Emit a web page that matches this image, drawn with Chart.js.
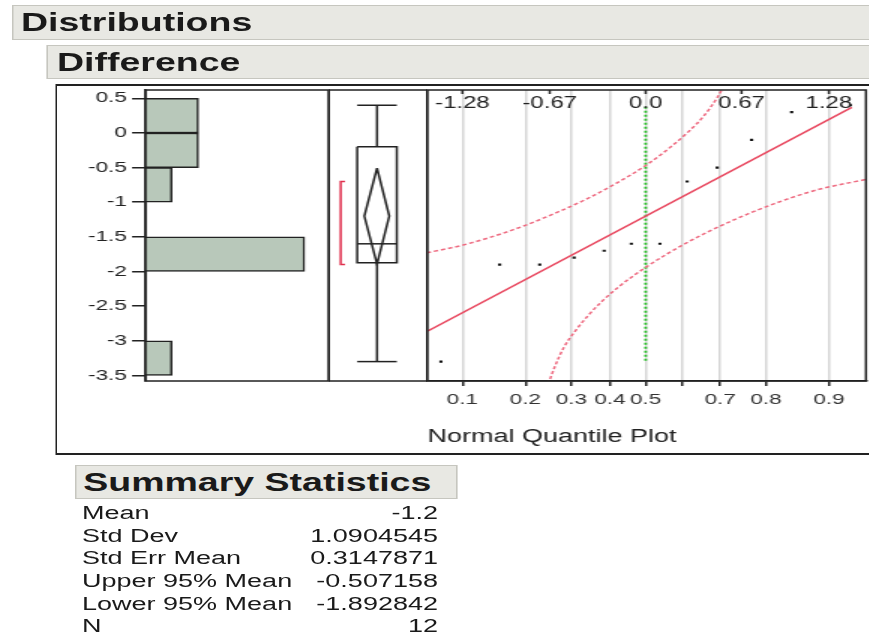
<!DOCTYPE html>
<html>
<head>
<meta charset="utf-8">
<title>Distributions - Difference</title>
<script src="https://cdn.jsdelivr.net/npm/chart.js@4.4.1/dist/chart.umd.min.js"></script>
<style>
  html, body { margin: 0; padding: 0; background: #fff; overflow: hidden; }
  body { font-family: "Liberation Sans", Arial, Helvetica, sans-serif; color: #1a1a1a; }
  /* the whole report is drawn narrow, then stretched sideways like the original */
  #page { position: relative; width: 580px; height: 634px; transform: scaleX(1.5); transform-origin: 0 0; }
  .hdr { position: absolute; background: #e8e8e3; border: 1px solid #c6c6bf; box-sizing: border-box;
         font-weight: bold; font-size: 25px; line-height: 33px; white-space: nowrap; }
  #hdr1 { left: 8px; top: 5px; width: 600px; height: 35px; padding-left: 5px; }
  #hdr2 { left: 31px; top: 45px; width: 600px; height: 34px; padding-left: 6px; line-height: 32px; }
  #frame { position: absolute; left: 36.5px; top: 84px; width: 600px; height: 371px;
           border: 2px solid #222; border-left-width: 1.4px; box-sizing: border-box; }
  canvas { position: absolute; }
  #histChart { left: 37px; top: 84px; }
  #boxChart { left: 219px; top: 84px; }
  #qqChart { left: 284px; top: 84px; }
  #sumHdr { left: 50px; top: 465px; width: 255.3px; height: 34px; padding-left: 4.5px; line-height: 33px; }
  #stats { position: absolute; left: 54.7px; top: 502px; width: 237.3px; font-size: 18px; }
  #stats .row { display: flex; justify-content: space-between; height: 22.7px; line-height: 22.7px; white-space: nowrap; }
</style>
</head>
<body>
<div id="page">
  <div class="hdr" id="hdr1">Distributions</div>
  <div class="hdr" id="hdr2">Difference</div>
  <div id="frame"></div>
  <canvas id="histChart" width="183" height="300"></canvas>
  <canvas id="boxChart" width="66" height="300"></canvas>
  <canvas id="qqChart" width="296" height="370"></canvas>
  <div class="hdr" id="sumHdr">Summary Statistics</div>
  <div id="stats"></div>
</div>
<script>
// Difference values (sorted) and histogram bins
const yTicks = [0.5, 0, -0.5, -1, -1.5, -2, -2.5, -3, -3.5];
const yMin = -3.58, yMax = 0.62;
const binCenters = [0.25, -0.25, -0.75, -1.75, -3.25];
const binCounts = [2, 2, 1, 6, 1];
const sortedDiff = [-3.3, -1.9, -1.9, -1.8, -1.7, -1.6, -1.6, -0.7, -0.5, -0.1, 0.3, 0.4];
const normalQuantiles = [-1.43, -1.02, -0.74, -0.50, -0.29, -0.10, 0.10, 0.29, 0.50, 0.74, 1.02, 1.43];

// Quantile plot axes
const probLabels = ['0.1', '0.2', '0.3', '0.4', '0.5', '', '0.7', '0.8', '0.9'];
const probTickZ = [-1.28, -0.84, -0.52, -0.25, 0, 0.25, 0.52, 0.84, 1.28];
const zTickValues = [-1.28, -0.67, 0, 0.67, 1.28];
const zTickLabels = ['-1.28', '-0.67', '0.0', '0.67', '1.28'];

// Outlier box plot
const boxMin = -3.3, boxQ1 = -1.875, boxMedian = -1.6, boxQ3 = -0.2, boxMax = 0.4;
const meanValue = -1.2, upper95 = -0.507158, lower95 = -1.892842;
const shortestHalf = [-1.9, -0.7];

// Normal fit line and confidence bands
const fitLine = [{x: -1.524, y: -2.86}, {x: 1.44, y: 0.37}];
const medianRef = [{x: 0, y: 0.38}, {x: 0, y: -3.3}];
const upperBand = [
  {x: -1.53, y: -1.73}, {x: -1.28, y: -1.62}, {x: -1.0, y: -1.45}, {x: -0.8, y: -1.30},
  {x: -0.6, y: -1.13}, {x: -0.4, y: -0.94}, {x: -0.2, y: -0.72}, {x: 0, y: -0.47},
  {x: 0.2, y: -0.16}, {x: 0.3, y: 0.02}, {x: 0.4, y: 0.23}, {x: 0.5, y: 0.51}, {x: 0.55, y: 0.69}
];
const lowerBand = [
  {x: -0.68, y: -3.62}, {x: -0.63, y: -3.35}, {x: -0.57, y: -3.09}, {x: -0.5, y: -2.88},
  {x: -0.4, y: -2.63}, {x: -0.3, y: -2.42}, {x: -0.2, y: -2.24}, {x: 0, y: -1.94},
  {x: 0.3, y: -1.57}, {x: 0.6, y: -1.27}, {x: 0.9, y: -1.02}, {x: 1.2, y: -0.82}, {x: 1.54, y: -0.67}
];

const summaryLabels = ['Mean', 'Std Dev', 'Std Err Mean', 'Upper 95% Mean', 'Lower 95% Mean', 'N'];
const summaryValues = ['-1.2', '1.0904545', '0.3147871', '-0.507158', '-1.892842', '12'];

Chart.defaults.font.family = '"Liberation Sans", Arial, Helvetica, sans-serif';
Chart.defaults.color = '#222';

// black frame round each plot panel
const panelBox = {
  id: 'panelBox',
  afterDraw(chart) {
    const a = chart.chartArea, ctx = chart.ctx;
    ctx.save();
    ctx.strokeStyle = '#222';
    ctx.lineWidth = 1.5;
    ctx.strokeRect(a.left, a.top, a.right - a.left, a.bottom - a.top);
    ctx.restore();
  }
};

// Histogram
new Chart(document.getElementById('histChart'), {
  type: 'bar',
  data: {
    datasets: [{
      data: binCenters.map((c, i) => ({x: binCounts[i], y: c})),
      backgroundColor: '#b8c8ba',
      borderColor: '#222',
      borderWidth: 1.5,
      borderSkipped: 'start',
      barPercentage: 1,
      categoryPercentage: 1
    }]
  },
  options: {
    indexAxis: 'y',
    responsive: false,
    animation: false,
    layout: {autoPadding: false, padding: {top: 6, bottom: 3, right: 1, left: 0}},
    plugins: {legend: {display: false}, tooltip: {enabled: false}},
    scales: {
      x: {type: 'linear', min: 0, max: 6.9, display: false},
      y: {
        type: 'linear', min: yMin, max: yMax, offset: false,
        afterBuildTicks: s => { s.ticks = yTicks.map(v => ({value: v})); },
        afterFit: s => { s.width = 60; s.paddingTop = 0; s.paddingBottom = 0; },
        ticks: {callback: v => String(v), font: {size: 15}, color: '#222', padding: 3.5, autoSkip: false},
        grid: {drawOnChartArea: false, offset: false, tickLength: 9, color: '#222', lineWidth: 1.5},
        border: {color: '#222', width: 1.5}
      }
    }
  },
  plugins: [panelBox]
});

// Box plot with mean diamond and shortest half bracket
const boxLeft = 0.29, boxRight = 0.69, boxMid = 0.49;
const seg = (pts, color) => ({data: pts, borderColor: color || '#222', borderWidth: 1.5, pointRadius: 0, tension: 0, fill: false});
new Chart(document.getElementById('boxChart'), {
  type: 'line',
  data: {
    datasets: [
      seg([{x: boxMid, y: boxQ3}, {x: boxMid, y: boxMax}]),
      seg([{x: boxMid, y: boxQ1}, {x: boxMid, y: boxMin}]),
      seg([{x: boxLeft, y: boxMax}, {x: boxRight, y: boxMax}]),
      seg([{x: boxLeft, y: boxMin}, {x: boxRight, y: boxMin}]),
      seg([{x: boxLeft, y: boxQ3}, {x: boxRight, y: boxQ3}, {x: boxRight, y: boxQ1}, {x: boxLeft, y: boxQ1}, {x: boxLeft, y: boxQ3}]),
      seg([{x: boxLeft, y: boxMedian}, {x: boxRight, y: boxMedian}]),
      seg([{x: boxMid, y: upper95}, {x: 0.614, y: meanValue}, {x: boxMid, y: lower95}, {x: 0.362, y: meanValue}, {x: boxMid, y: upper95}]),
      seg([{x: 0.167, y: shortestHalf[1]}, {x: 0.123, y: shortestHalf[1]}, {x: 0.123, y: shortestHalf[0]}, {x: 0.167, y: shortestHalf[0]}], '#e0304e')
    ]
  },
  options: {
    responsive: false,
    animation: false,
    layout: {autoPadding: false, padding: {top: 6, bottom: 3, left: 0, right: 0}},
    plugins: {legend: {display: false}, tooltip: {enabled: false}},
    scales: {
      x: {type: 'linear', min: 0, max: 1, display: false},
      y: {type: 'linear', min: yMin, max: yMax, display: false}
    }
  },
  plugins: [panelBox]
});

// z labels across the top of the quantile plot
const zLabels = {
  id: 'zLabels',
  afterDatasetsDraw(chart) {
    const ctx = chart.ctx, xs = chart.scales.x, top = chart.chartArea.top;
    ctx.save();
    ctx.font = '16px "Liberation Sans", Arial, sans-serif';
    ctx.fillStyle = '#222';
    ctx.textAlign = 'center';
    ctx.textBaseline = 'middle';
    ctx.strokeStyle = '#222';
    ctx.lineWidth = 1.5;
    zTickValues.forEach((v, i) => {
      const px = xs.getPixelForValue(v);
      ctx.fillText(zTickLabels[i], px, top + 14);
      ctx.beginPath();
      ctx.moveTo(px, top);
      ctx.lineTo(px, top + 4);
      ctx.stroke();
    });
    ctx.restore();
  }
};

// Normal quantile plot
new Chart(document.getElementById('qqChart'), {
  type: 'scatter',
  data: {
    datasets: [
      {data: upperBand, showLine: true, borderColor: '#ee6a80', borderWidth: 1.5, borderDash: [3, 2], pointRadius: 0, cubicInterpolationMode: 'monotone'},
      {data: lowerBand, showLine: true, borderColor: '#ee6a80', borderWidth: 1.5, borderDash: [3, 2], pointRadius: 0, cubicInterpolationMode: 'monotone'},
      {data: fitLine, showLine: true, borderColor: '#e8475f', borderWidth: 1.5, pointRadius: 0},
      {data: medianRef, showLine: true, borderColor: '#22bb22', borderWidth: 1.8, borderDash: [2, 2], pointRadius: 0},
      {data: normalQuantiles.map((z, i) => ({x: z, y: sortedDiff[i]})), pointStyle: 'rect', pointRadius: 1.5,
       backgroundColor: '#111', borderColor: '#111', borderWidth: 0}
    ]
  },
  options: {
    responsive: false,
    animation: false,
    layout: {autoPadding: false, padding: {top: 6, bottom: 0, left: 1, right: 2.7}},
    plugins: {legend: {display: false}, tooltip: {enabled: false}},
    scales: {
      x: {
        type: 'linear', min: -1.524, max: 1.539,
        afterBuildTicks: s => { s.ticks = probTickZ.map(v => ({value: v})); },
        afterFit: s => { s.height = 73; },
        ticks: {callback: (v, i) => probLabels[i], font: {size: 15}, color: '#333', padding: 5, autoSkip: false, maxRotation: 0},
        grid: {color: '#d6d6d6', lineWidth: 1.5, tickColor: '#222', tickLength: 5},
        border: {color: '#222', width: 1.5},
        title: {display: true, text: 'Normal Quantile Plot', align: 'start', font: {size: 18}, color: '#222', padding: {top: 0, bottom: 6.5}}
      },
      y: {type: 'linear', min: yMin, max: yMax, display: false}
    }
  },
  plugins: [panelBox, zLabels]
});

// Summary statistics table
const stats = document.getElementById('stats');
summaryLabels.forEach((label, i) => {
  const row = document.createElement('div');
  row.className = 'row';
  row.innerHTML = '<span>' + label + '</span><span>' + summaryValues[i] + '</span>';
  stats.appendChild(row);
});
</script>
</body>
</html>
